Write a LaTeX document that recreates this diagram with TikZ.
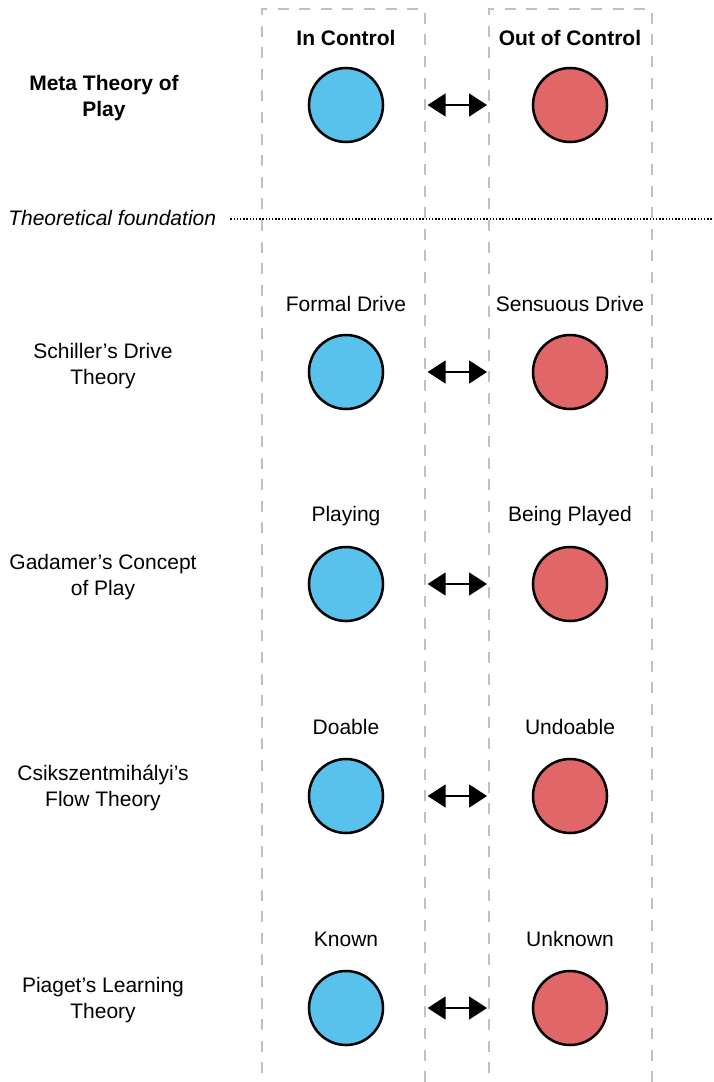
\documentclass[tikz,border=0pt]{standalone}
\usepackage{fontspec}
\setmainfont{Liberation Sans}
\usetikzlibrary{arrows.meta}
\definecolor{ctrlblue}{RGB}{88,193,236}
\definecolor{ctrlred}{RGB}{224,102,104}
\definecolor{framegray}{RGB}{192,192,192}
\begin{document}
\begin{tikzpicture}[x=0.75pt,y=-0.75pt,
  txt/.style={font=\fontsize{15.75}{19.2}\selectfont, inner sep=0pt, align=center},
  head/.style={txt, font=\fontsize{15.75}{19.2}\selectfont\bfseries},
  side/.style={txt},
  ball/.style={circle, draw=black, line width=1.9pt, minimum size=55.5pt, inner sep=0pt},
  inball/.style={ball, fill=ctrlblue},
  outball/.style={ball, fill=ctrlred},
  frame/.style={draw=framegray, line width=1.8pt, dash pattern=on 8.2pt off 8pt},
  swap/.style={line width=2pt, {Triangle[length=13.5pt,width=17pt]}-{Triangle[length=13.5pt,width=17pt]},
    shorten <=32.5pt, shorten >=33.5pt}
]
\useasboundingbox (0,0) rectangle (714,1082);

% column frames, open at the bottom
\draw[frame] (262,1095) -- (262,9) -- (425,9) -- (425,1095);
\draw[frame] (489,1095) -- (489,9) -- (652,9) -- (652,1095);

% column headers
\node[head] (hin)  at (346,38) {In Control};
\node[head] (hout) at (570,38) {Out of Control};

% meta level
\node[head] (meta) at (104,98) {Meta Theory of\\Play};
\node[inball]  (m1) at (346,105) {};
\node[outball] (m2) at (570,105) {};
\draw[swap] (m1) -- (m2);

% separator
\node[txt, font=\fontsize{15.75}{19.2}\selectfont\itshape, anchor=west] (found) at (8,218) {Theoretical foundation};
\coordinate (sepend) at (714,219);
\draw[line width=1.1pt, dash pattern=on 1.1pt off 1.3pt] ([xshift=10.5pt]found.east |- sepend) -- (sepend);

% Schiller
\node[side] (s0) at (103,366) {Schiller’s Drive\\Theory};
\node[txt] (sl) at (346,304) {Formal Drive};
\node[txt] (sr) at (570,304) {Sensuous Drive};
\node[inball]  (s1) at (346,372) {};
\node[outball] (s2) at (570,372) {};
\draw[swap] (s1) -- (s2);

% Gadamer
\node[side] (g0) at (103,577) {Gadamer’s Concept\\of Play};
\node[txt] (gl) at (346,516) {Playing};
\node[txt] (gr) at (570,516) {Being Played};
\node[inball]  (g1) at (346,584) {};
\node[outball] (g2) at (570,584) {};
\draw[swap] (g1) -- (g2);

% Csikszentmihalyi
\node[side] (c0) at (103,788) {Csikszentmihályi’s\\Flow Theory};
\node[txt] (cl) at (346,727) {Doable};
\node[txt] (cr) at (570,727) {Undoable};
\node[inball]  (c1) at (346,796) {};
\node[outball] (c2) at (570,796) {};
\draw[swap] (c1) -- (c2);

% Piaget
\node[side] (p0) at (103,1000) {Piaget’s Learning\\Theory};
\node[txt] (pl) at (346,939) {Known};
\node[txt] (pr) at (570,939) {Unknown};
\node[inball]  (p1) at (346,1008) {};
\node[outball] (p2) at (570,1008) {};
\draw[swap] (p1) -- (p2);
\end{tikzpicture}
\end{document}
